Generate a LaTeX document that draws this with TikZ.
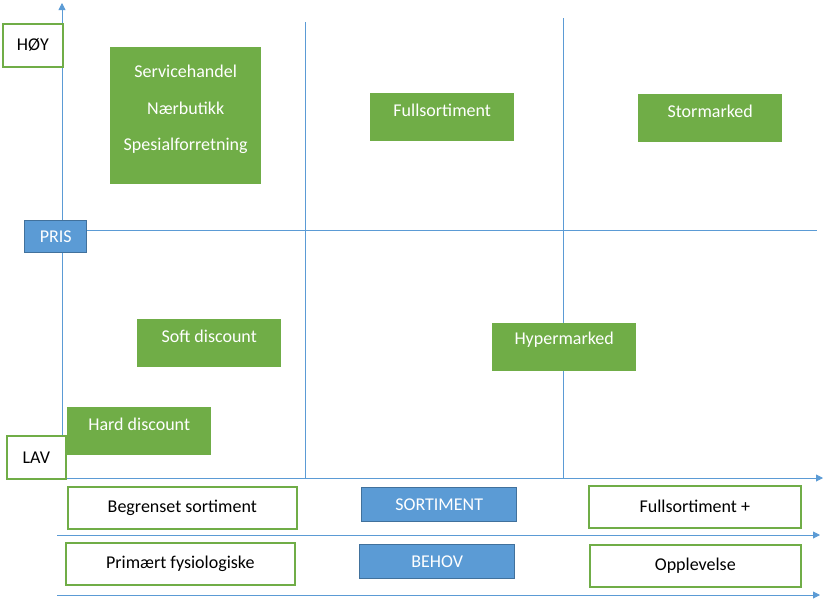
\documentclass[tikz,border=0pt]{standalone}
\usepackage{fontspec}
\setmainfont{Carlito}
\usetikzlibrary{arrows.meta,calc}
\definecolor{gfill}{HTML}{70AD47}
\definecolor{gline}{HTML}{70AD47}
\definecolor{bfill}{HTML}{5B9BD5}
\definecolor{bline}{HTML}{41719C}
\definecolor{axis}{HTML}{5B9BD5}
\begin{document}
\begin{tikzpicture}[x=1pt,y=-1pt,
  every node/.style={font=\fontsize{18}{21}\selectfont},
  gbox/.style={fill=gfill, draw=none, anchor=north west, inner sep=0pt},
  wbox/.style={fill=white, draw=gline, line width=1.6pt, anchor=north west, inner sep=0pt, text=black},
  bbox/.style={fill=bfill, draw=bline, line width=1.4pt, anchor=north west, inner sep=0pt, text=white},
  gtxt/.style={text=white, anchor=center},
  axline/.style={draw=axis, line width=0.9pt},
  axarrow/.style={axline, -{Triangle[length=7pt,width=7pt]}}
]
\useasboundingbox (0,0) rectangle (825,600);
% grid lines
\coordinate (vtop) at (62,3);
\coordinate (vbot) at (62,478);
\coordinate (hend) at (823,478);
\coordinate (g1t) at (305,22);
\coordinate (g1b) at (305,478);
\coordinate (g2t) at (563,18);
\coordinate (g2b) at (563,478);
\coordinate (hmidE) at (817,230);
\coordinate (r1s) at (57,535);
\coordinate (r1e) at (820,535);
\coordinate (r2s) at (57,595);
\coordinate (r2e) at (820,595);
\draw[axline] (g1t) -- (g1b);
\draw[axline] (g2t) -- (g2b);
\draw[axarrow] (vbot) -- (vtop);
\draw[axarrow] (vbot) -- (hend);
\draw[axarrow] (r1s) -- (r1e);
\draw[axarrow] (r2s) -- (r2e);

% PRIS
\node[bbox, minimum width=62, minimum height=32] (pris) at (24,220) {PRIS};
\draw[axline] (pris.east |- hmidE) -- (hmidE);

% HØY / LAV
\node[wbox, minimum width=60, minimum height=43] (hoy) at (2,23) {HØY};
\node[wbox, minimum width=59, minimum height=43] (lav) at (6,435) {LAV};

% green boxes
\node[gbox, minimum width=151, minimum height=137] (svc) at (110,47) {};
\node[gtxt] at ($(svc.north)+(0,24)$) {Servicehandel};
\node[gtxt] at ($(svc.north)+(0,61)$) {Nærbutikk};
\node[gtxt] at ($(svc.north)+(0,99)$) {Spesialforretning};

\node[gbox, minimum width=144, minimum height=48] (full) at (370,93) {};
\node[gtxt] at ($(full.north)+(0,17)$) {Fullsortiment};
\node[gbox, minimum width=144, minimum height=48] (stor) at (638,94) {};
\node[gtxt] at ($(stor.north)+(0,17)$) {Stormarked};
\node[gbox, minimum width=144, minimum height=48] (soft) at (137,319) {};
\node[gtxt] at ($(soft.north)+(0,17)$) {Soft discount};
\node[gbox, minimum width=144, minimum height=48] (hyper) at (492,323) {};
\node[gtxt] at ($(hyper.north)+(0,17)$) {Hypermarked};
\node[gbox, minimum width=144, minimum height=48] (hard) at (67,407) {};
\node[gtxt] at ($(hard.north)+(0,17)$) {Hard discount};

% bottom rows
\node[wbox, minimum width=229, minimum height=42] (begr) at (67,486) {Begrenset sortiment};
\node[bbox, minimum width=155, minimum height=34] (sort) at (361,487) {SORTIMENT};
\node[wbox, minimum width=212, minimum height=42] (fullp) at (588,485) {Fullsortiment +};
\node[wbox, minimum width=229, minimum height=42] (prim) at (65,542) {Primært fysiologiske};
\node[bbox, minimum width=155, minimum height=34] (behov) at (359,544) {BEHOV};
\node[wbox, minimum width=211, minimum height=42] (oppl) at (589,544) {Opplevelse};
\end{tikzpicture}
\end{document}
